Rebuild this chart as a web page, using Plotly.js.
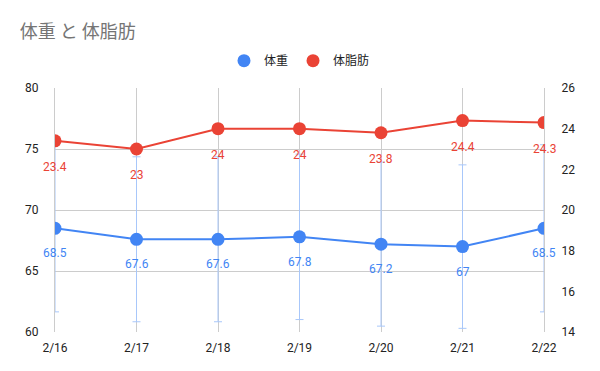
<!DOCTYPE html>
<html><head><meta charset="utf-8">
<script src="https://cdn.plot.ly/plotly-3.0.1.min.js"></script>
<style>body{margin:0;}#chart{width:600px;height:371px;}</style>
</head><body><div id="chart"></div>
<script>
const dates = ['2/16','2/17','2/18','2/19','2/20','2/21','2/22'];
const weight = [68.5, 67.6, 67.6, 67.8, 67.2, 67, 68.5];
const bodyFat = [23.4, 23, 24, 24, 23.8, 24.4, 24.3];
const weightLabels = ['68.5','67.6','67.6','67.8','67.2','67','68.5'];
const fatLabels = ['23.4','23','24','24','23.8','24.4','24.3'];
const leftTicks = [60, 65, 70, 75, 80];
const rightTicks = [14, 16, 18, 20, 22, 24, 26];

const BLUE = '#4285F4', RED = '#EA4335';
const FONT = 'Roboto, "Noto Sans CJK JP", sans-serif';

const traces = [
  {x: dates, y: weight, type: 'scatter', mode: 'lines+markers', yaxis: 'y',
   line: {color: BLUE, width: 2}, marker: {color: BLUE, size: 13},
   error_y: {type: 'percent', value: 10, color: '#a8c7fa', thickness: 1, width: 4},
   showlegend: false, hoverinfo: 'none'},
  {x: dates, y: bodyFat, type: 'scatter', mode: 'lines+markers', yaxis: 'y2',
   line: {color: RED, width: 2}, marker: {color: RED, size: 13},
   showlegend: false, hoverinfo: 'none'},
  {x: [null], y: [null], type: 'scatter', mode: 'markers', name: '体重',
   marker: {color: BLUE, size: 13}},
  {x: [null], y: [null], type: 'scatter', mode: 'markers', name: '体脂肪',
   marker: {color: RED, size: 13}}
];

const annotations = [];
dates.forEach((d, i) => {
  annotations.push({x: d, y: weight[i], xref: 'x', yref: 'y', text: weightLabels[i],
    showarrow: false, yshift: -25, font: {color: BLUE, size: 12, family: FONT}});
  annotations.push({x: d, y: bodyFat[i], xref: 'x', yref: 'y2', text: fatLabels[i],
    showarrow: false, yshift: -26, font: {color: RED, size: 12, family: FONT}});
});

const layout = {
  width: 600, height: 371,
  margin: {l: 55, r: 56, t: 88, b: 39},
  paper_bgcolor: '#fff', plot_bgcolor: '#fff',
  font: {family: FONT, size: 12, color: '#222'},
  title: {text: '体重 と 体脂肪', x: 0.033, xanchor: 'left', y: 0.915, yanchor: 'middle',
          font: {family: '"Noto Sans CJK JP", sans-serif', size: 18, color: '#757575'}},
  showlegend: true,
  legend: {orientation: 'h', x: 0.5, xanchor: 'center', y: 1.112, yanchor: 'middle',
           font: {family: '"Noto Sans CJK JP", sans-serif', size: 12, color: '#222'},
           itemwidth: 20},
  xaxis: {type: 'category', range: [0, 6], showgrid: true, gridcolor: '#cccccc',
          zeroline: false, showline: false, ticks: '', ticklabelstandoff: 7,
          tickfont: {size: 12, color: '#222'}, fixedrange: true},
  yaxis: {range: [60, 80], tickvals: leftTicks, ticktext: leftTicks.map(String),
          gridcolor: '#cccccc', zeroline: false, showline: true, linecolor: '#cccccc',
          linewidth: 1, ticks: '',
          ticklabelstandoff: 13, tickfont: {size: 12, color: '#222'}},
  yaxis2: {range: [14, 26], tickvals: rightTicks, ticktext: rightTicks.map(String),
           overlaying: 'y', side: 'right', showgrid: false, zeroline: false,
           showline: true, linecolor: '#cccccc', linewidth: 1,
           ticks: '', ticklabelstandoff: 14, tickfont: {size: 12, color: '#222'}},
  annotations: annotations
};

Plotly.newPlot('chart', traces, layout, {displayModeBar: false, staticPlot: true});
</script></body></html>
